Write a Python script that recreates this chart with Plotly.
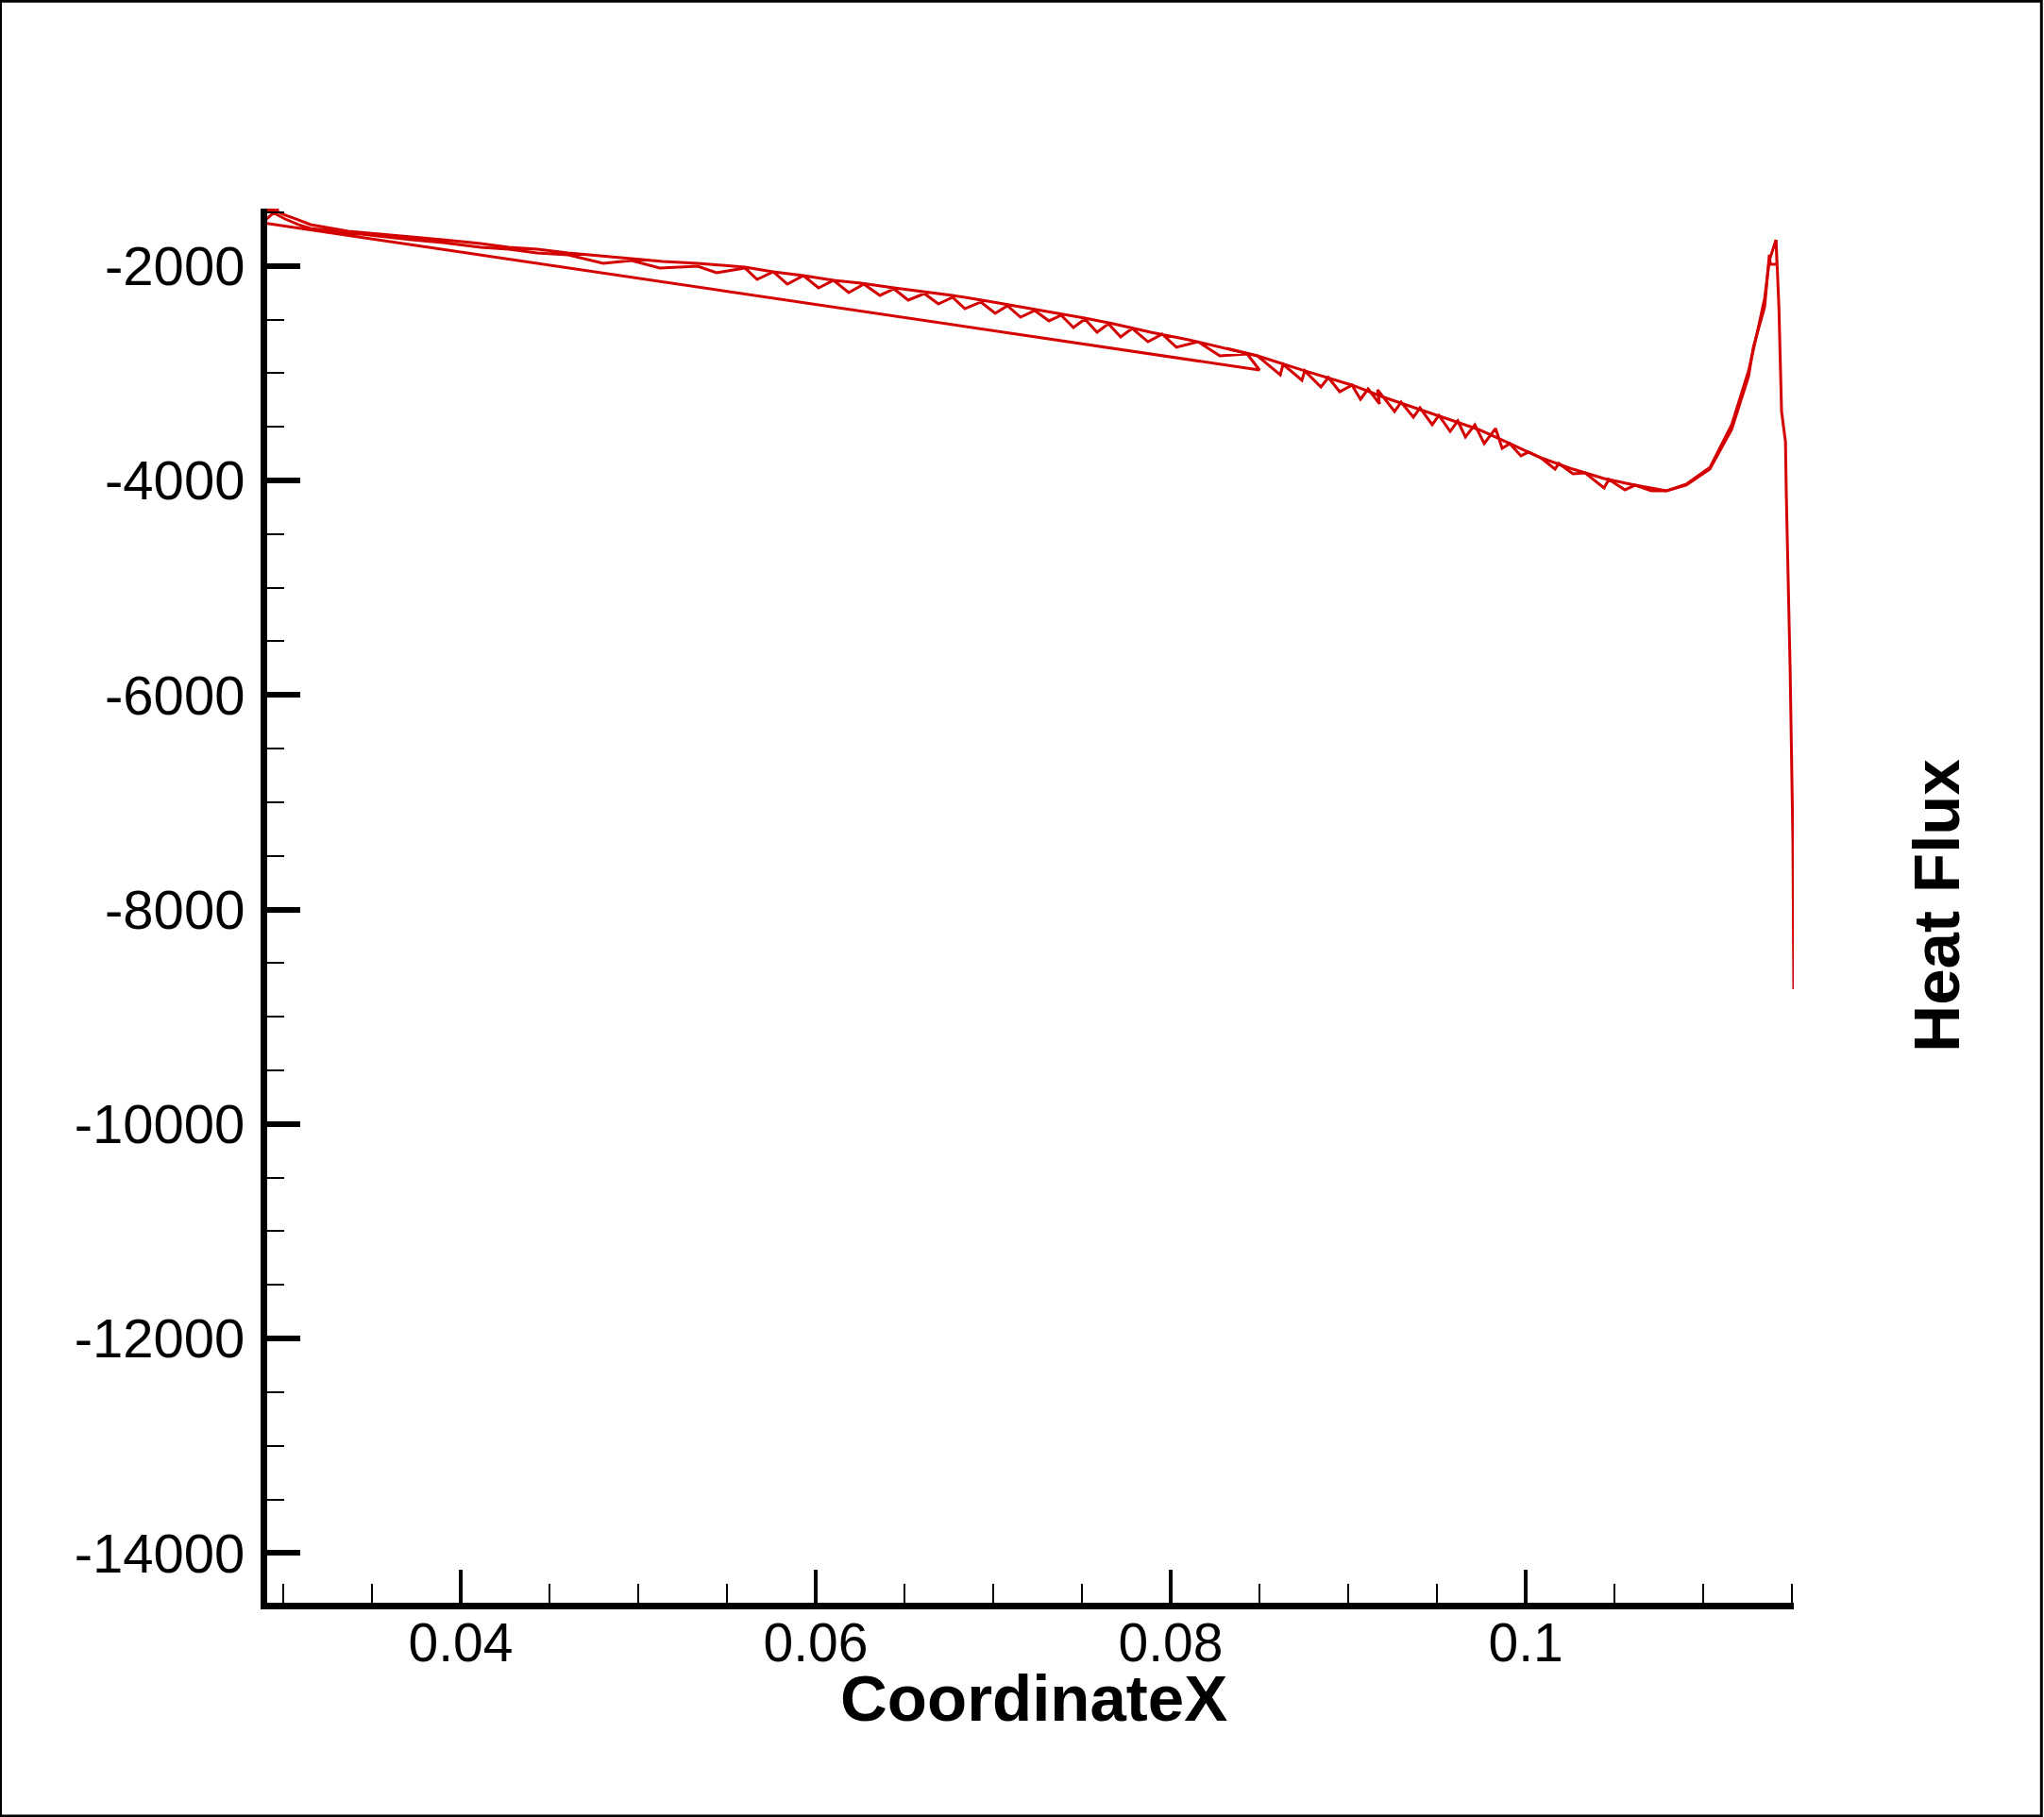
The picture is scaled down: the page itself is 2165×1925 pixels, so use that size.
import plotly.graph_objects as go

# surface points in file order (x coordinate, heat flux)
x_coord = [
    0.02973, 0.02894, 0.02883, 0.08500,
    0.08431, 0.08277, 0.08154, 0.08032, 0.07952, 0.07872, 0.07782, 0.07718,
    0.07649, 0.07585, 0.07516, 0.07452, 0.07383, 0.07314, 0.07234, 0.07154,
    0.07080, 0.07011, 0.06931, 0.06840, 0.06771, 0.06691, 0.06612, 0.06521,
    0.06441, 0.06362, 0.06271, 0.06186, 0.06101, 0.06016, 0.05931, 0.05840,
    0.05761, 0.05670, 0.05601, 0.05441, 0.05335, 0.05122, 0.04963, 0.04803,
    0.04606, 0.04431, 0.04271, 0.04112, 0.03899, 0.03723, 0.03527, 0.03367,
    0.03154, 0.03085, 0.03011, 0.02941, 0.02910,
    0.02931, 0.03011, 0.03085, 0.03154, 0.03367, 0.03527, 0.03723, 0.03899,
    0.04112, 0.04271, 0.04431, 0.04606, 0.04787, 0.04963, 0.05138, 0.05335,
    0.05601, 0.05761, 0.05931, 0.06101, 0.06255, 0.06441, 0.06612, 0.06771,
    0.06968, 0.07154, 0.07314, 0.07516, 0.07676, 0.07888, 0.08101, 0.08314,
    0.08489, 0.08617, 0.08633, 0.08739, 0.08755, 0.08846, 0.08888, 0.08952,
    0.09021, 0.09069, 0.09112, 0.09176, 0.09165, 0.09261, 0.09298, 0.09367,
    0.09404, 0.09473, 0.09511, 0.09574, 0.09617, 0.09660, 0.09713, 0.09766,
    0.09830, 0.09867, 0.09910, 0.09973, 0.10016, 0.10085, 0.10165, 0.10186,
    0.10266, 0.10335, 0.10441, 0.10468, 0.10559, 0.10617, 0.10707, 0.10793,
    0.10904, 0.11037, 0.11160, 0.11255, 0.11282, 0.11346, 0.11362, 0.11372,
    0.11378, 0.11415, 0.11410, 0.11426, 0.11441, 0.11463, 0.11468, 0.11489,
    0.11505, 0.11510,
]
heat_flux = [
    -1466, -1580, -1598, -2971,
    -2821, -2839, -2707, -2759, -2636, -2707, -2583, -2663,
    -2539, -2619, -2495, -2575, -2460, -2513, -2416, -2478,
    -2372, -2443, -2337, -2399, -2293, -2355, -2258, -2319,
    -2214, -2275, -2170, -2249, -2135, -2205, -2091, -2170,
    -2055, -2126, -2020, -2064, -2003, -2020, -1950, -1976,
    -1897, -1879, -1844, -1827, -1783, -1756, -1721, -1686,
    -1651, -1615, -1563, -1501, -1475,
    -1466, -1527, -1571, -1615, -1677, -1703, -1730, -1756,
    -1791, -1827, -1844, -1879, -1906, -1932, -1959, -1976,
    -2011, -2055, -2091, -2135, -2161, -2205, -2240, -2275,
    -2328, -2381, -2425, -2487, -2539, -2619, -2689, -2768,
    -2839, -3015, -2918, -3067, -2979, -3129, -3041, -3173,
    -3111, -3243, -3147, -3287, -3155, -3358, -3270, -3411,
    -3323, -3481, -3393, -3543, -3446, -3595, -3481, -3657,
    -3516, -3701, -3657, -3771, -3736, -3789, -3895, -3842,
    -3939, -3930, -4071, -3991, -4088, -4044, -4097, -4097,
    -4044, -3895, -3525, -3032, -2759, -2381, -2108, -1897,
    -1985, -1985, -1756, -2381, -3358, -3639, -4150, -5734,
    -7371, -8743,
]

# second surface zone: smooth upper strand from mid chord to the peak
x_upper = [0.08314, 0.08489, 0.08755, 0.09021, 0.09202, 0.09378, 0.09553,
           0.09734, 0.09910, 0.10085, 0.10266, 0.10441, 0.10617, 0.10793,
           0.10904, 0.11037, 0.11160, 0.11255, 0.11300, 0.11346, 0.11372,
           0.11410]
hf_upper = [-2768, -2839, -2979, -3111, -3226, -3323, -3419,
            -3525, -3657, -3789, -3895, -3983, -4044, -4097,
            -4035, -3880, -3480, -2980, -2650, -2300, -1950,
            -1756]

x_ticks = [0.04, 0.06, 0.08, 0.1]
x_labels = ["0.04", "0.06", "0.08", "0.1"]
y_ticks = [-2000, -4000, -6000, -8000, -10000, -12000, -14000]
y_labels = ["-2000", "-4000", "-6000", "-8000", "-10000", "-12000", "-14000"]

X_RANGE = [0.02910, 0.1151]
Y_RANGE = [-14463, -1466]
FONT = "Liberation Sans, Arial, sans-serif"
RED = "#d40000"

fig = go.Figure()
fig.add_trace(go.Scatter(x=x_coord, y=heat_flux, mode="lines",
                         line=dict(color=RED, width=3)))
fig.add_trace(go.Scatter(x=x_upper, y=hf_upper, mode="lines",
                         line=dict(color=RED, width=3)))
# invisible copy bound to the label axis so that axis gets drawn
fig.add_trace(go.Scatter(x=x_coord, y=heat_flux, xaxis="x2", mode="lines",
                         opacity=0, hoverinfo="skip"))

fig.update_layout(
    xaxis=dict(
        range=X_RANGE, showgrid=False, zeroline=False,
        showline=True, linewidth=7, linecolor="black",
        tickmode="array", tickvals=x_ticks, showticklabels=False,
        ticks="inside", ticklen=35, tickwidth=4, tickcolor="black",
        minor=dict(dtick=0.005, tick0=0, ticks="inside", ticklen=20,
                   tickwidth=2, tickcolor="black"),
    ),
    # label-only axis so the numbers sit close under the thick axis line
    xaxis2=dict(
        range=X_RANGE, overlaying="x", anchor="free", position=0,
        side="bottom", showgrid=False, zeroline=False, showline=False,
        tickmode="array", tickvals=x_ticks, ticktext=x_labels, ticks="",
        ticklabelstandoff=4,
        tickfont=dict(family=FONT, size=57, color="black"),
    ),
    yaxis=dict(
        range=Y_RANGE, showgrid=False, zeroline=False,
        showline=True, linewidth=7, linecolor="black",
        tickmode="array", tickvals=y_ticks, ticktext=y_labels,
        ticks="inside", ticklen=35, tickwidth=6, tickcolor="black",
        tickfont=dict(family=FONT, size=58, color="black"),
        ticklabelstandoff=5,
        minor=dict(dtick=500, tick0=0, ticks="inside", ticklen=18,
                   tickwidth=2, tickcolor="black"),
    ),
)

fig.add_annotation(text="<b>CoordinateX</b>", x=0.502, y=-0.069,
                   xref="paper", yref="paper", showarrow=False,
                   xanchor="center", yanchor="middle",
                   font=dict(family=FONT, size=69, color="black"))
fig.add_annotation(text="<b>Heat Flux</b>", x=1.0935, y=0.5,
                   xref="paper", yref="paper", showarrow=False, textangle=-90,
                   xanchor="center", yanchor="middle",
                   font=dict(family=FONT, size=69, color="black"))

# thin frame round the whole picture
fig.add_shape(type="rect", xref="paper", yref="paper",
              x0=-0.1747, x1=1.1622, y0=-0.1530, y1=1.1488,
              line=dict(color="black", width=3))

fig.update_layout(
    width=2165, height=1925,
    margin=dict(l=283, r=265, t=221, b=227),
    paper_bgcolor="white", plot_bgcolor="white",
    showlegend=False,
)

fig.write_html("out.html", config={"displayModeBar": False},
               post_script="document.body.style.margin='0';")
